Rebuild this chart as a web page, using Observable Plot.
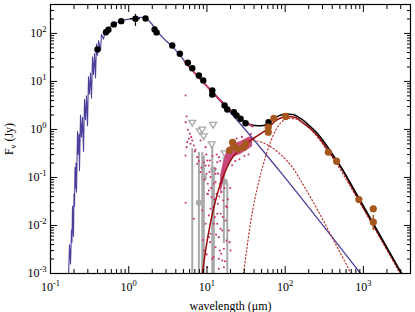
<!DOCTYPE html>
<html><head><meta charset="utf-8">
<script src="https://cdn.jsdelivr.net/npm/d3@7"></script>
<script src="https://cdn.jsdelivr.net/npm/@observablehq/plot@0.6"></script>
<style>body{margin:0;background:#fff}</style>
</head><body><div id="chart"></div>
<script>
// ---- tick values and labels ----
const xMajor = [0.1, 1, 10, 100, 1000];
const xTickLabels = ["10^-1", "10^0", "10^1", "10^2", "10^3"];
const xMinor = [0.2,0.3,0.4,0.5,0.6,0.7,0.8,0.9,2,3,4,5,6,7,8,9,20,30,40,50,60,70,80,90,200,300,400,500,600,700,800,900,2000,3000];
const yMajor = [0.001, 0.01, 0.1, 1, 10, 100];
const yTickLabels = ["10^-3", "10^-2", "10^-1", "10^0", "10^1", "10^2"];
const yMinor = [0.002,0.003,0.004,0.005,0.006,0.007,0.008,0.009,0.02,0.03,0.04,0.05,0.06,0.07,0.08,0.09,0.2,0.3,0.4,0.5,0.6,0.7,0.8,0.9,2,3,4,5,6,7,8,9,20,30,40,50,60,70,80,90,200,300];

// ---- stellar spectrum (noisy, UV/optical) ----
const specLam = [0.1699,0.1750,0.1803,0.1856,0.1883,0.1911,0.1968,0.1997,0.2027,0.2057,0.2088,0.2119,0.2150,0.2214,0.2247,0.2314,0.2348,0.2418,0.2490,0.2565,0.2642,0.2721,0.2802,0.2886,0.2972,0.3061,0.3152,0.3247,0.3344,0.3444,0.3547,0.3653,0.3762,0.3875,0.3990,0.4110,0.4358,0.4488,0.4763,0.5050,0.5357,0.5853,0.6393,0.7191,0.8091];
const specFlux = [0.00089,0.00398,0.00158,0.008,0.0045,0.0251,0.006,0.045,0.025,0.16,0.06,0.2,0.05,0.9,0.3,0.8,0.14,2.0,0.7,1.8,0.35,4.2,1.6,5.0,1.2,12.5,5.5,15,4.5,32,14,38,12,60,35,70.8,44.7,95.5,75.9,120,107,138,155,170,187];

// ---- stellar photosphere model ----
const starLam = [0.8091,1.054,1.415,1.640,1.900,2.202,2.705,3.60,6.17,11.69,920];
const starFlux = [187,200,215,205,169,124,82.5,53.6,18.7,6.04,0.001];

// ---- total model (star + dust) ----
const totalLam = [11.69,16.8,20.04,23.9,28.5,34.0,40.6,48.5,57.8,69.0,82.3,101.2,124.3,157.4,199.1,252.0,319,404,511,868,3081];
const totalFlux = [6.04,3.32,2.49,1.866,1.503,1.302,1.212,1.194,1.271,1.577,1.911,2.103,2.054,1.695,1.241,0.866,0.536,0.3013,0.1695,0.0383,0.001];

// ---- dust total ----
const dustLam = [8.66,9.60,11.12,12.88,14.93,17.81,21.25,25.36,30.3,36.1,43.1,51.4,59.6,71.1,87.3,107.3,135.8,171.9,224.0,283.6,358.9,467.9,868,3035];
const dustFlux = [0.000908,0.00301,0.01155,0.0332,0.075,0.154,0.261,0.365,0.464,0.590,0.715,0.866,1.024,1.399,1.736,1.866,1.778,1.334,0.953,0.619,0.348,0.2054,0.0348,0.001];

// ---- warm dust component ----
const warmLam = [30.3,36.1,43.1,51.4,61.3,73.2,87.3,104.2,124.3,157.4,211.3,283.6,380.8,511,696];
const warmFlux = [0.464,0.590,0.576,0.536,0.464,0.383,0.3013,0.226,0.1616,0.0866,0.0383,0.01616,0.00649,0.00261,0.001];

// ---- cold dust component ----
const coldLam = [29.4,32.1,36.1,40.6,45.7,52.9,61.3,71.1,82.3,95.4,113.8,135.8,166.9,211.3,267.4,338.3,428.3,542,868,2990];
const coldFlux = [0.001,0.00301,0.01155,0.0332,0.0787,0.1957,0.4217,0.787,1.212,1.54,1.695,1.655,1.366,1.0,0.649,0.383,0.226,0.121,0.0332,0.000953];

// ---- IRS spectrum (total) ----
const irsLam = [5.17,6.17,8.28,11.69,16.8,23.9,32.1,38.3];
const irsFlux = [26.1,18.7,11.0,6.04,3.24,1.866,1.366,1.155];

// ---- IRS excess spectrum ----
const irsExLam = [5.33,5.49,5.33,5.70,6.05,6.30,5.87,6.49,5.60,6.17,6.80,7.15,8.28,9.60,7.52,9.13,10.09,10.58,13.54,14.20,12.88,5.33,5.49,7.52,8.28,9.60,9.88,10.27,10.58,10.89,11.12,11.45,12.04,12.25,12.62,12.88,13.27,13.54,13.79,14.20,14.62,14.93,15.24,15.70,16.16,16.45,17.29,17.81,18.18,19.05,20.04,10.09,11.69,9.13,12.88,14.20,11.12,9.60,8.71,10.58,5.33,6.80,10.09,13.54,14.93,15.70,14.20,16.45,11.12,12.25,10.58,
  7.0,7.9,8.5,9.3,9.8,10.3,10.8,11.3,11.8,12.4,12.9,13.3,13.8,14.4,14.8,15.4,15.9,16.2,16.8,17.5,8.9,9.9,11.0,12.2,13.1,14.6,17.0,19.5,18.5,19.8,21,23,26,30,34,36.5,24,28];
const irsExFlux = [5.11,1.866,1.419,0.986,0.814,0.691,0.640,0.590,0.544,0.504,0.464,0.378,0.590,0.428,0.265,0.208,0.226,0.178,0.208,0.265,0.152,0.287,0.428,0.193,0.129,0.178,0.119,0.0739,0.0536,0.226,0.1014,0.0389,0.0240,0.0739,0.0149,0.119,0.0457,0.01085,0.0283,0.00571,0.0739,0.0175,0.00257,0.00787,0.0332,0.00135,0.0127,0.00487,0.0240,0.00787,0.00301,0.00135,0.00202,0.00301,0.00353,0.00202,0.00672,0.01085,0.0205,0.0162,0.0297,0.0138,0.0457,0.0175,0.00854,0.00187,0.00125,0.00327,0.0223,0.01085,0.00571,
  0.35,0.22,0.16,0.09,0.3,0.045,0.13,0.06,0.28,0.035,0.08,0.3,0.12,0.04,0.22,0.05,0.015,0.14,0.06,0.025,0.005,0.0025,0.0045,0.0022,0.0065,0.003,0.0018,0.0045,0.035,0.06,0.18,0.22,0.24,0.28,0.3,0.8,0.65,0.7];
const bandLam = [14.93,16.45,18.18,20.04,22.5,25.4,28.5,32.1,36.1,38.3];
const bandHi = [0.110,0.226,0.365,0.464,0.504,0.536,0.590,0.649,0.715,0.649];
const bandLo = [0.0422,0.0866,0.154,0.226,0.274,0.287,0.316,0.365,0.402,0.442];

// ---- photometry (photosphere) ----
const photLam = [0.399,0.512,0.55,0.645,0.802,1.22,1.64,2.14,2.27,3.60,4.50,5.70,6.49,7.88,8.97,11.7,11.7,16.8,18.2,22.1,23.9,26.9,31.2,61.3];
const photFlux = [46.4,106,119,154,180,202,205,121,105,56,37.8,24.5,18.9,13.3,10.5,6.49,5.36,3.16,2.61,2.29,1.96,1.67,1.35,1.42];
const photErrLam = [1.22], photErrLo = [140], photErrHi = [249];
const photXErrFlux = [202], photXErrLo = [1.054], photXErrHi = [1.415];

// ---- excess photometry ----
const exLam = [19.45,21.25,22.5,24.8,29.6,31.2,60.8,60.8,71.7,101.2,356,454,876,1338,1338];
const exFlux = [0.365,0.536,0.442,0.392,0.428,0.504,1.117,0.878,1.695,1.866,0.3366,0.2186,0.0348,0.0223,0.01172];
const exErrLam = [1338], exErrLo = [0.00787], exErrHi = [0.0162];

// ---- mid-IR upper limits and low-S/N points ----
const limLam = [6.49,8.1,8.7,9.1,12.0,11.5,16.8,17.8];
const limFlux = [1.38,0.92,1.0,0.72,1.25,0.49,0.32,0.226];
const grayLam = [7.88,9.13,12.04,16.94];
const grayFlux = [0.0297,0.10,0.147,0.081];
const grayBarLam = [6.49,7.88,8.71,9.13,11.69,12.25,16.45,18.18];
const grayBarHi = [0.40,0.33,0.33,0.28,0.52,0.154,0.22,0.075];
const grayBarLo = [1e-4,1e-4,1e-4,1e-4,1e-4,1e-4,0.0042,1e-4];

// ---- build tables ----
const zip = (a, b) => a.map((v, i) => ({x: v, y: b[i]}));
const spec = zip(specLam, specFlux), star = zip(starLam, starFlux), total = zip(totalLam, totalFlux);
const dust = zip(dustLam, dustFlux), warm = zip(warmLam, warmFlux), cold = zip(coldLam, coldFlux);
const irs = zip(irsLam, irsFlux), irsEx = zip(irsExLam, irsExFlux);
const band = bandLam.map((v, i) => ({x: v, lo: bandLo[i], hi: bandHi[i]}));
const phot = zip(photLam, photFlux), ex = zip(exLam, exFlux);
const lim = zip(limLam, limFlux), gray = zip(grayLam, grayFlux);
const grayBars = grayBarLam.map((v, i) => ({x: v, lo: grayBarLo[i], hi: grayBarHi[i]}));
const photErr = photErrLam.map((v, i) => ({x: v, lo: photErrLo[i], hi: photErrHi[i]}));
const photXErr = photXErrFlux.map((v, i) => ({y: v, lo: photXErrLo[i], hi: photXErrHi[i]}));
const exErr = exErrLam.map((v, i) => ({x: v, lo: exErrLo[i], hi: exErrHi[i]}));

const triDown = {draw(ctx, size) { const r = Math.sqrt(size / Math.PI); ctx.moveTo(-r, -r * 0.7); ctx.lineTo(r, -r * 0.7); ctx.lineTo(0, r * 1.0); ctx.closePath(); }};

const BLUE = "#4b419b", RED = "#9c0b0b", DOT = "#b83232", MAG = "#c63a72", BROWN = "#a6571e", GRAY = "#a9a9a9";
const none = () => "";

const chart = Plot.plot({
  width: 415, height: 312,
  marginLeft: 50, marginRight: 5, marginTop: 4, marginBottom: 39,
  style: {fontFamily: "'Liberation Serif', serif", fontSize: "12px", background: "white", color: "black"},
  x: {type: "log", domain: [0.1, 4000]},
  y: {type: "log", domain: [0.001, 400]},
  marks: [
    Plot.ruleX(grayBars, {x: "x", y1: "lo", y2: "hi", stroke: GRAY, strokeWidth: 2, clip: true}),
    Plot.dot(lim, {x: "x", y: "y", symbol: triDown, r: 3.4, stroke: GRAY, strokeWidth: 1.3, fill: "white"}),
    Plot.dot(gray, {x: "x", y: "y", r: 3, fill: GRAY}),
    Plot.dot(irsEx, {x: "x", y: "y", r: 1.05, fill: MAG, clip: true}),
    Plot.areaY(band, {x: "x", y1: "lo", y2: "hi", fill: MAG, fillOpacity: 0.9, curve: "basis"}),
    Plot.line(spec, {x: "x", y: "y", stroke: BLUE, strokeWidth: 1.1, clip: true}),
    Plot.line(star, {x: "x", y: "y", stroke: BLUE, strokeWidth: 1.3, curve: "monotone-x", clip: true}),
    Plot.line(warm, {x: "x", y: "y", stroke: DOT, strokeWidth: 1.2, strokeDasharray: "1.2,2.4", curve: "monotone-x", clip: true}),
    Plot.line(cold, {x: "x", y: "y", stroke: DOT, strokeWidth: 1.2, strokeDasharray: "1.2,2.4", curve: "monotone-x", clip: true}),
    Plot.line(dust, {x: "x", y: "y", stroke: RED, strokeWidth: 1.5, curve: "monotone-x", clip: true}),
    Plot.line(total, {x: "x", y: "y", stroke: "black", strokeWidth: 1.5, curve: "monotone-x", clip: true}),
    Plot.line(irs, {x: "x", y: "y", stroke: MAG, strokeWidth: 2, curve: "monotone-x"}),
    Plot.ruleX(photErr, {x: "x", y1: "lo", y2: "hi", stroke: "black", strokeWidth: 1.2}),
    Plot.ruleY(photXErr, {y: "y", x1: "lo", x2: "hi", stroke: "black", strokeWidth: 1.2}),
    Plot.dot(phot, {x: "x", y: "y", r: 3.2, fill: "black"}),
    Plot.ruleX(exErr, {x: "x", y1: "lo", y2: "hi", stroke: BROWN, strokeWidth: 1.5}),
    Plot.dot(ex, {x: "x", y: "y", r: 3.6, fill: BROWN}),
    Plot.frame({stroke: "black", strokeWidth: 1.2}),
    // inward ticks on all sides
    Plot.axisX(xMajor, {anchor: "bottom", tickSize: -7, tickFormat: none, label: null}),
    Plot.axisX(xMinor, {anchor: "bottom", tickSize: -4, tickFormat: none, label: null}),
    Plot.axisX(xMajor, {anchor: "top", tickSize: -7, tickFormat: none, label: null}),
    Plot.axisX(xMinor, {anchor: "top", tickSize: -4, tickFormat: none, label: null}),
    Plot.axisY(yMajor, {anchor: "left", tickSize: -7, tickFormat: none, label: null}),
    Plot.axisY(yMinor, {anchor: "left", tickSize: -4, tickFormat: none, label: null}),
    Plot.axisY(yMajor, {anchor: "right", tickSize: -7, tickFormat: none, label: null}),
    Plot.axisY(yMinor, {anchor: "right", tickSize: -4, tickFormat: none, label: null}),
    // labels
    Plot.axisX(xMajor, {anchor: "bottom", tickSize: 0, tickPadding: 9, tickFormat: d => xTickLabels[xMajor.indexOf(d)], label: "wavelength (μm)", labelAnchor: "center", labelArrow: "none", labelOffset: 36, fontSize: 12}),
    Plot.axisY(yMajor, {anchor: "left", tickSize: 0, tickPadding: 4, tickFormat: d => yTickLabels[yMajor.indexOf(d)], label: "Fν (Jy)", labelAnchor: "center", labelArrow: "none", labelOffset: 46, fontSize: 12})
  ]
});

document.getElementById("chart").appendChild(chart);

// typeset superscripts / subscript as real text
const svg = d3.select(chart.tagName.toLowerCase() === "svg" ? chart : chart.querySelector("svg"));
svg.selectAll("text").each(function () {
  const t = d3.select(this);
  const s = t.text();
  const m = s.match(/^10\^(-?\d)$/);
  if (m) {
    t.text("10");
    t.append("tspan").attr("dy", "-5").attr("font-size", "8.5").text(m[1]);
  } else if (s === "Fν (Jy)") {
    t.text("F");
    t.append("tspan").attr("dy", "3").attr("font-size", "8.5").text("ν");
    t.append("tspan").attr("dy", "-3").text(" (Jy)");
  }
});
</script>
</body></html>
